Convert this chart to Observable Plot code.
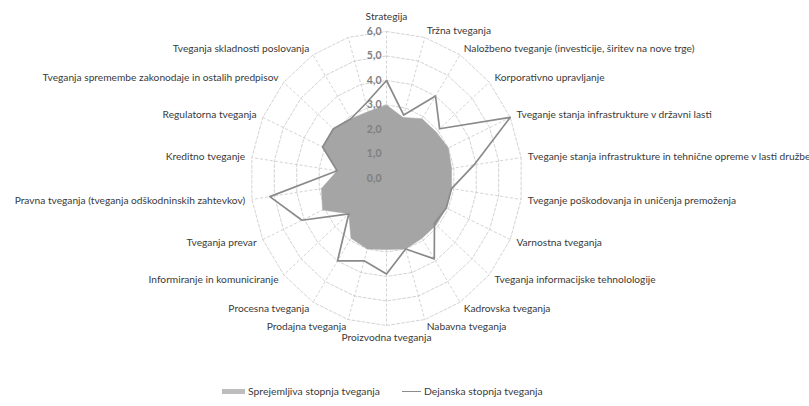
<!DOCTYPE html>
<html>
<head>
<meta charset="utf-8">
<script src="https://cdn.jsdelivr.net/npm/d3@7"></script>
<script src="https://cdn.jsdelivr.net/npm/@observablehq/plot@0.6"></script>
<style>
  html, body { margin: 0; padding: 0; background: #fff; }
  #wrap { position: relative; width: 809px; height: 406px; overflow: hidden; font-family: Lato, "Open Sans", sans-serif; }
  #legend { position: absolute; left: 222px; top: 385px; display: flex; align-items: center; font-size: 10.4px; color: #3a3a3a; white-space: nowrap; }
  .item { display: flex; align-items: center; margin-right: 22px; }
  .sw-area { width: 23px; height: 5px; background: #bdbdbd; margin-right: 3px; }
  .sw-line { width: 19px; height: 0; border-top: 1px solid #8c8c8c; margin-right: 3px; }
</style>
</head>
<body>
<div id="wrap"><div id="chart"></div><div id="legend"></div></div>
<script>
const categories = [
  "Strategija",
  "Tržna tveganja",
  "Naložbeno tveganje (investicije, širitev na nove trge)",
  "Korporativno upravljanje",
  "Tveganje stanja infrastrukture v državni lasti",
  "Tveganje stanja infrastrukture in tehnične opreme v lasti družbe",
  "Tveganje poškodovanja in uničenja premoženja",
  "Varnostna tveganja",
  "Tveganja informacijske tehnolologije",
  "Kadrovska tveganja",
  "Nabavna tveganja",
  "Proizvodna tveganja",
  "Prodajna tveganja",
  "Procesna tveganja",
  "Informiranje in komuniciranje",
  "Tveganja prevar",
  "Pravna tveganja (tveganja odškodninskih zahtevkov)",
  "Kreditno tveganje",
  "Regulatorna tveganja",
  "Tveganja spremembe zakonodaje in ostalih predpisov",
  "Tveganja skladnosti poslovanja",
  ""
];
const acceptable = [3.0, 2.6, 2.9, 2.9, 3.0, 2.9, 2.9, 2.9, 2.9, 2.9, 3.0, 2.9, 3.0, 2.9, 2.2, 3.1, 2.9, 2.2, 3.1, 3.1, 2.9, 2.85];
const actual     = [4.0, 2.7, 4.0, 3.1, 6.0, 3.9, 2.9, 2.9, 2.8, 3.9, 3.0, 3.9, 3.5, 4.0, 2.2, 4.1, 5.2, 2.2, 3.1, 3.1, 2.9, 3.2];
const tickValues = [0, 1, 2, 3, 4, 5, 6];
const tickLabels = ["0,0", "1,0", "2,0", "3,0", "4,0", "5,0", "6,0"];
const seriesNames = ["Sprejemljiva stopnja tveganja", "Dejanska stopnja tveganja"];

const n = categories.length;
const rMax = d3.max(tickValues);
const rows = categories.map((c, i) => ({cat: c, i, a: 2 * Math.PI * i / n, acc: acceptable[i], act: actual[i]}));
const px = (r, a) => r * Math.sin(a);
const py = (r, a) => r * Math.cos(a);

const grid = tickValues.filter(v => v > 0).flatMap(k => rows.map(d => ({k, x: px(k, d.a), y: py(k, d.a)})));
const labR = rMax + 0.3;
const eps = 1e-6;
const rightLabels = rows.filter(d => Math.sin(d.a) > eps);
const leftLabels = rows.filter(d => Math.sin(d.a) < -eps);
const topLabels = rows.filter(d => Math.abs(Math.sin(d.a)) <= eps && Math.cos(d.a) > 0);
const bottomLabels = rows.filter(d => Math.abs(Math.sin(d.a)) <= eps && Math.cos(d.a) < 0);

const labelStyle = {text: "cat", fill: "#3a3a3a", fontSize: 10.2};
const chart = Plot.plot({
  width: 809,
  height: 370,
  x: {domain: [-rMax, rMax], range: [250, 522], axis: null},
  y: {domain: [-rMax, rMax], range: [325, 31], axis: null},
  style: {fontFamily: "Lato, 'Open Sans', sans-serif", fontSize: "10px", background: "white", overflow: "visible"},
  marks: [
    Plot.line(grid, {x: "x", y: "y", z: "k", curve: "linear-closed", stroke: "#c8c8c8", strokeWidth: 0.8, strokeDasharray: "3,2"}),
    Plot.link(rows, {x1: () => 0, y1: () => 0, x2: d => px(rMax, d.a), y2: d => py(rMax, d.a), stroke: "#c8c8c8", strokeWidth: 0.8, strokeDasharray: "3,2"}),
    Plot.line(rows, {x: d => px(d.acc, d.a), y: d => py(d.acc, d.a), curve: "linear-closed", fill: "#a5a5a5", stroke: "#a5a5a5", strokeWidth: 0.5}),
    Plot.line(rows, {x: d => px(d.act, d.a), y: d => py(d.act, d.a), curve: "linear-closed", stroke: "#8a8a8a", strokeWidth: 1.7}),
    Plot.text(tickValues, {x: () => 0, y: d => d, text: (d, i) => tickLabels[i], textAnchor: "end", dx: -5, fill: "#7f7f7f", fontWeight: "bold", fontSize: 10.5}),
    Plot.text(rightLabels, {x: d => px(labR, d.a), y: d => py(labR, d.a), textAnchor: "start", ...labelStyle}),
    Plot.text(leftLabels, {x: d => px(labR, d.a), y: d => py(labR, d.a), textAnchor: "end", ...labelStyle}),
    Plot.text(topLabels, {x: d => px(labR, d.a), y: d => py(labR, d.a), textAnchor: "middle", dy: -7, ...labelStyle}),
    Plot.text(bottomLabels, {x: d => px(labR, d.a), y: d => py(labR, d.a), textAnchor: "middle", dy: 5, ...labelStyle})
  ]
});
document.getElementById("chart").appendChild(chart);

const legend = document.getElementById("legend");
legend.innerHTML =
  `<div class="item"><span class="sw-area"></span><span>${seriesNames[0]}</span></div>` +
  `<div class="item"><span class="sw-line"></span><span>${seriesNames[1]}</span></div>`;
</script>
</body>
</html>
